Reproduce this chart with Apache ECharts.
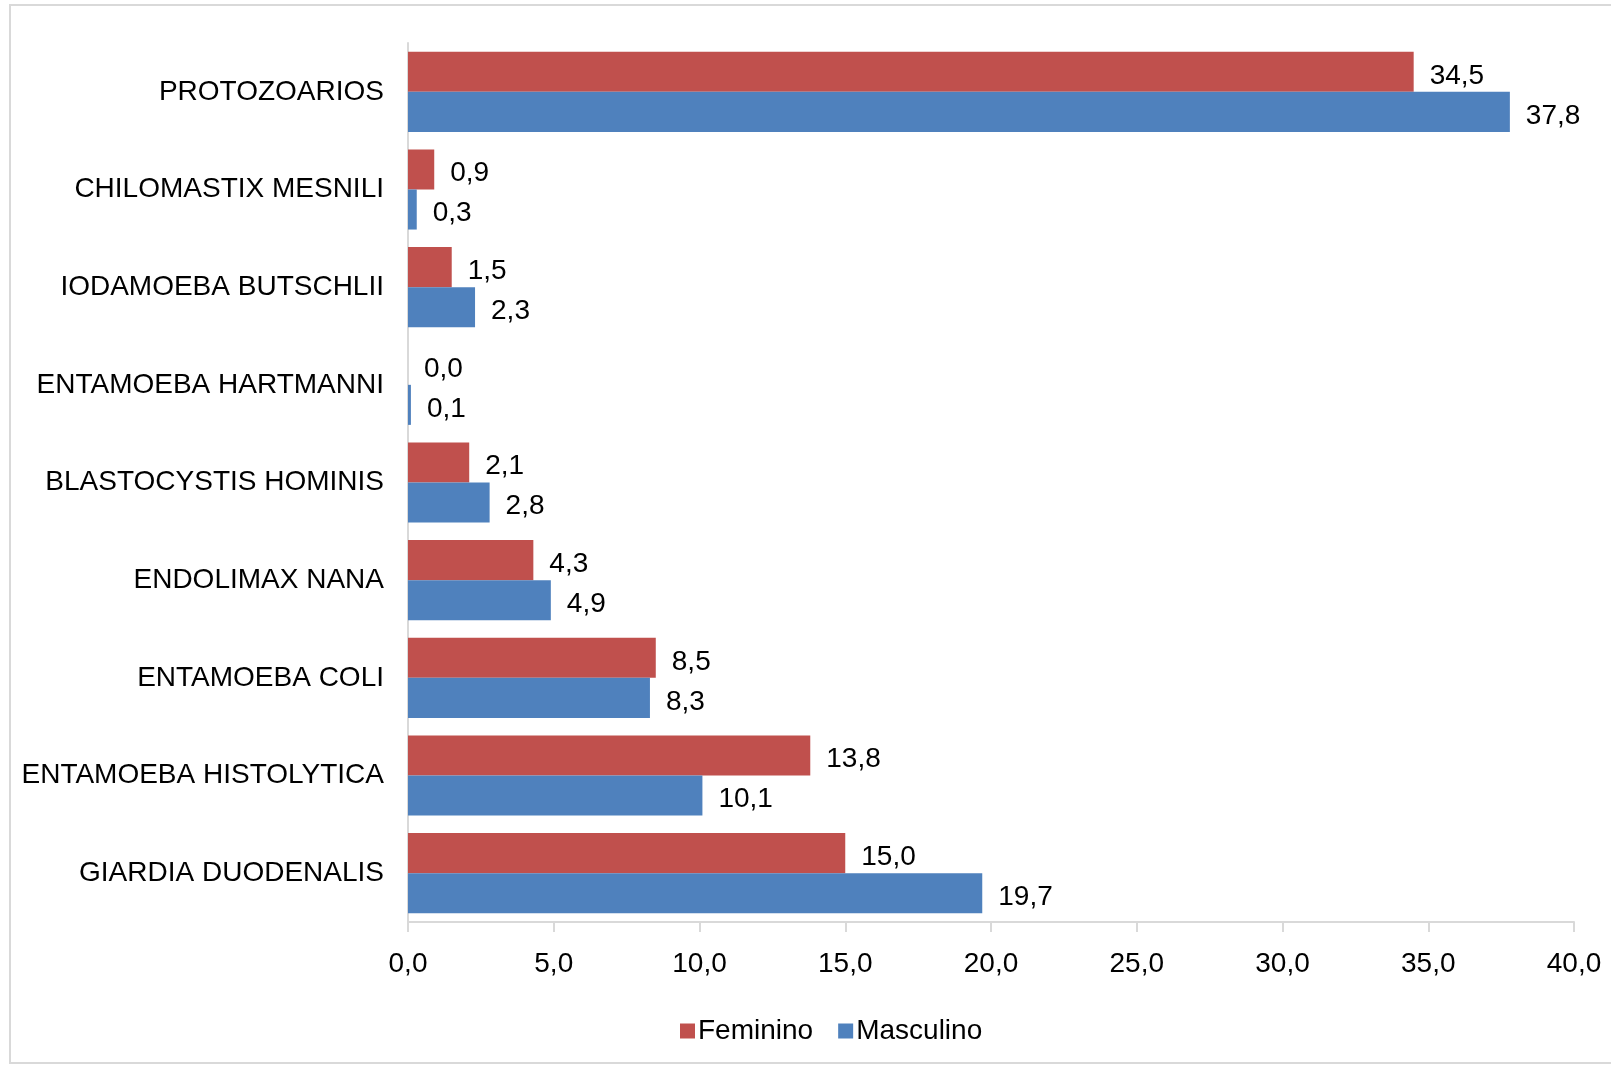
<!DOCTYPE html>
<html>
<head>
<meta charset="utf-8">
<script src="https://cdn.jsdelivr.net/npm/echarts@6/dist/echarts.min.js"></script>
<style>
  html, body { margin: 0; padding: 0; background: #fff; }
  #chart { width: 1611px; height: 1066px; }
</style>
</head>
<body>
<div id="chart"></div>
<script>
// Parasite prevalence (%) by sex
const categories = [
  'PROTOZOARIOS',
  'CHILOMASTIX MESNILI',
  'IODAMOEBA BUTSCHLII',
  'ENTAMOEBA HARTMANNI',
  'BLASTOCYSTIS HOMINIS',
  'ENDOLIMAX NANA',
  'ENTAMOEBA COLI',
  'ENTAMOEBA HISTOLYTICA',
  'GIARDIA DUODENALIS'
];
const femenino = [34.5, 0.9, 1.5, 0.0, 2.1, 4.3, 8.5, 13.8, 15.0];
const masculino = [37.8, 0.3, 2.3, 0.1, 2.8, 4.9, 8.3, 10.1, 19.7];
const seriesNames = ['Feminino', 'Masculino'];

const FONT = "'Liberation Sans Narrow', 'Liberation Sans', Arial, sans-serif";
const FS = 28;
const fmt = v => Number(v).toFixed(1).replace('.', ',');

const chart = echarts.init(document.getElementById('chart'), null, { renderer: 'canvas' });

const valueLabel = {
  show: true,
  position: 'right',
  distance: 16,
  offset: [0, 4],
  color: '#000',
  fontFamily: FONT,
  fontSize: FS,
  formatter: p => fmt(p.value)
};

chart.setOption({
  backgroundColor: '#fff',
  animation: false,
  graphic: [{
    type: 'rect',
    shape: { x: 10, y: 5, width: 1640, height: 1058 },
    style: { fill: 'none', stroke: '#d9d9d9', lineWidth: 2 },
    silent: true
  }],
  grid: { left: 408, right: 37, top: 43, bottom: 144, containLabel: false, outerBoundsMode: 'none' },
  legend: {
    data: seriesNames,
    left: 675,
    top: 1012,
    icon: 'rect',
    itemWidth: 15,
    itemHeight: 15,
    itemGap: 25,
    textStyle: { fontFamily: FONT, fontSize: FS, color: '#000', padding: [0, 0, 0, -2] }
  },
  xAxis: {
    type: 'value',
    min: 0,
    max: 40,
    interval: 5,
    axisLine: { show: true, lineStyle: { color: '#d9d9d9', width: 2 } },
    axisTick: { show: true, length: 10, lineStyle: { color: '#d9d9d9', width: 2 } },
    splitLine: { show: false },
    axisLabel: {
      margin: 28,
      color: '#000',
      fontFamily: FONT,
      fontSize: FS,
      formatter: v => fmt(v)
    }
  },
  yAxis: {
    type: 'category',
    data: categories,
    inverse: true,
    axisLine: { show: true, lineStyle: { color: '#d9d9d9', width: 2 } },
    axisTick: { show: false },
    axisLabel: {
      margin: 24,
      color: '#000',
      fontFamily: FONT,
      fontSize: FS,
      padding: [4, 0, 0, 0]
    }
  },
  series: [
    {
      name: seriesNames[0],
      type: 'bar',
      data: femenino,
      barGap: '0%',
      barCategoryGap: '18%',
      itemStyle: { color: '#c0504d' },
      label: valueLabel
    },
    {
      name: seriesNames[1],
      type: 'bar',
      data: masculino,
      barGap: '0%',
      barCategoryGap: '18%',
      itemStyle: { color: '#4f81bd' },
      label: valueLabel
    }
  ]
});
</script>
</body>
</html>
